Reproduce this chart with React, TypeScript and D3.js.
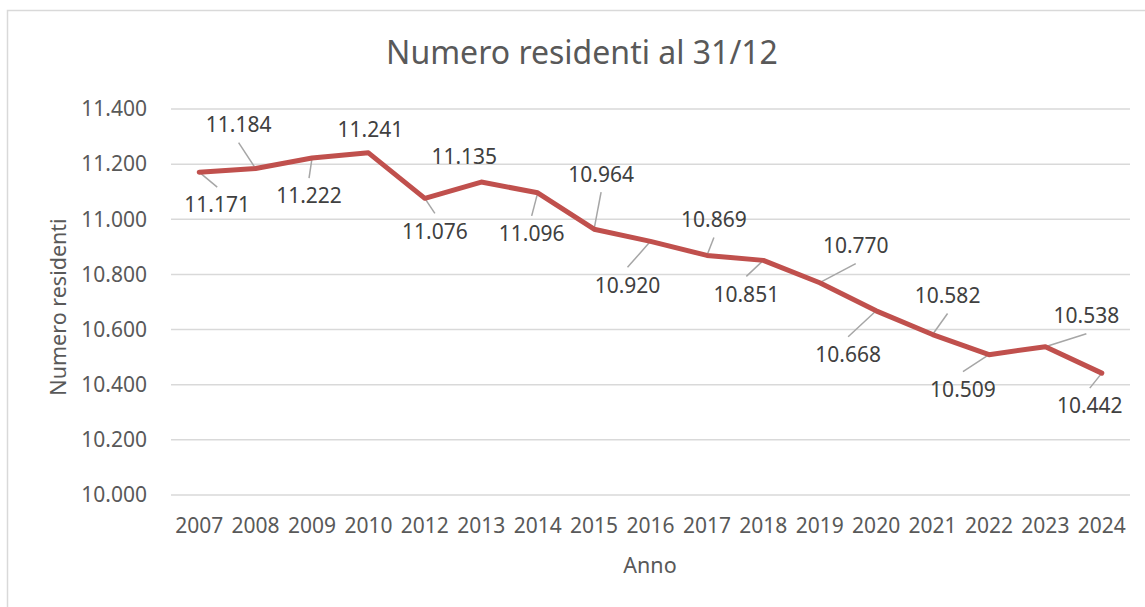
import React from 'react';
import * as d3 from 'd3';

const years = ['2007', '2008', '2009', '2010', '2012', '2013', '2014', '2015', '2016', '2017', '2018', '2019', '2020', '2021', '2022', '2023', '2024'];
const residents = [11171, 11184, 11222, 11241, 11076, 11135, 11096, 10964, 10920, 10869, 10851, 10770, 10668, 10582, 10509, 10538, 10442];
const yTicks = [10000, 10200, 10400, 10600, 10800, 11000, 11200, 11400];

// where Excel put each data label, relative to its point (dx, dy, show leader line)
const labelOffsets: [number, number, boolean][] = [
  [18, 33, true], [-17, -44, true], [-3, 38, true], [2, -23, false],
  [10, 33, true], [-17, -25, false], [-6, 41, true], [7, -55, true],
  [-23, 44, true], [7, -36, true], [-17, 34, true], [36, -37, true],
  [-28, 44, true], [15, -39, true], [-26, 35, true], [41, -31, true],
  [-12, 33, true],
];

const W = 1145;
const H = 607;
const margin = { top: 109, right: 15, bottom: 112, left: 171 };
const font = '"Noto Sans", sans-serif';

const fmt = (v: number) => d3.format(',')(v).replace(/,/g, '.');

const App: React.FC = () => {
  const x = d3.scaleBand<string>()
    .domain(years)
    .range([margin.left, W - margin.right]);

  const y = d3.scaleLinear()
    .domain([10000, 11400])
    .range([H - margin.bottom, margin.top]);

  const cx = (yr: string) => (x(yr) ?? 0) + x.bandwidth() / 2;

  const line = d3.line<number>()
    .x((_, i) => cx(years[i]))
    .y(d => y(d));

  return (
    <svg width={W} height={H} style={{ position: 'absolute', left: 0, top: 0, background: '#fff' }}>
      <rect x={7.5} y={10.5} width={W} height={H} fill="#fff" stroke="#d9d9d9" strokeWidth={1.5} />

      <text x={582} y={53} textAnchor="middle" dy="0.35em" fontFamily={font} fontSize={32} fill="#595959">
        Numero residenti al 31/12
      </text>

      {yTicks.map(t => (
        <g key={t}>
          <line x1={margin.left} x2={W - margin.right} y1={y(t)} y2={y(t)} stroke="#d9d9d9" strokeWidth={1.5} />
          <text x={147} y={y(t)} dy="0.35em" textAnchor="end" fontFamily={font} fontSize={21} fill="#595959">
            {fmt(t)}
          </text>
        </g>
      ))}

      {years.map(yr => (
        <text key={yr} x={cx(yr)} y={533} textAnchor="middle" fontFamily={font} fontSize={21} fill="#595959">
          {yr}
        </text>
      ))}

      <text x={650} y={573} textAnchor="middle" fontFamily={font} fontSize={21.5} fill="#595959">Anno</text>
      <text transform="translate(66,307) rotate(-90)" textAnchor="middle" fontFamily={font} fontSize={21.5} fill="#595959">
        Numero residenti
      </text>

      {residents.map((v, i) => {
        const [dx, dy, leader] = labelOffsets[i];
        const px = cx(years[i]);
        const py = y(v);
        const lx = px + dx;
        const ly = py + dy;
        const ey = ly + (dy > 0 ? -18 : 18);
        return leader ? (
          <line key={i} x1={px} y1={py} x2={lx} y2={ey} stroke="#a6a6a6" strokeWidth={1.5} />
        ) : null;
      })}

      <path d={line(residents) ?? ''} fill="none" stroke="#c0504d" strokeWidth={5} strokeLinejoin="round" strokeLinecap="round" />

      {residents.map((v, i) => {
        const [dx, dy] = labelOffsets[i];
        return (
          <text key={i} x={cx(years[i]) + dx} y={y(v) + dy} dy="0.35em" textAnchor="middle"
            fontFamily={font} fontSize={21} fill="#404040">
            {fmt(v)}
          </text>
        );
      })}
    </svg>
  );
};

export default App;
